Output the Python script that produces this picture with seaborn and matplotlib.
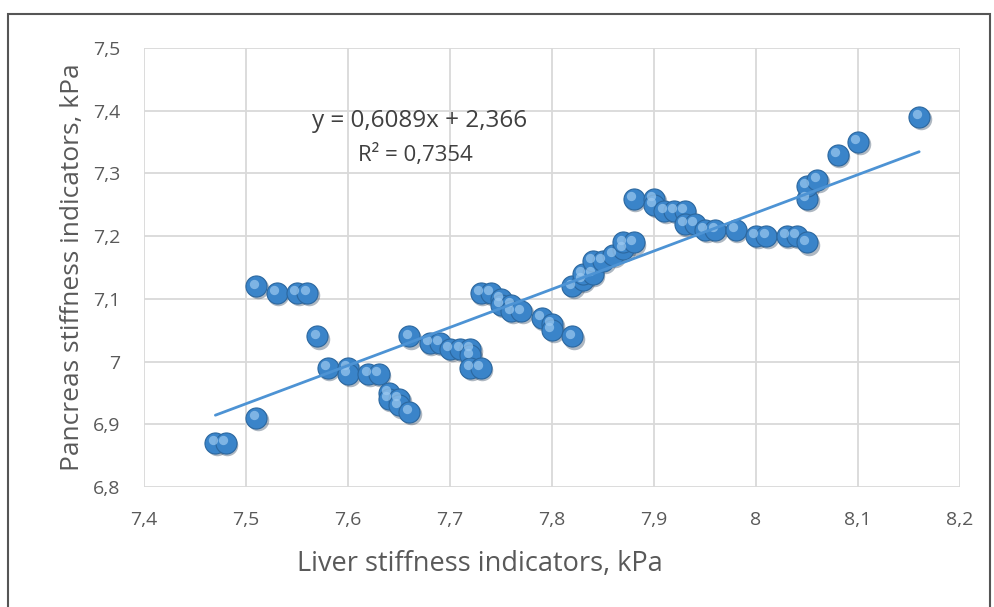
import numpy as np
import pandas as pd
import matplotlib
matplotlib.use("Agg")
import matplotlib.pyplot as plt
import matplotlib.transforms as mtransforms
from matplotlib.patches import Rectangle
import seaborn as sns

# data
liver = [7.47, 7.48, 7.51, 7.51, 7.53, 7.55, 7.56, 7.57, 7.58, 7.60,
         7.60, 7.62, 7.63, 7.64, 7.64, 7.65, 7.65, 7.66, 7.66, 7.68,
         7.69, 7.70, 7.71, 7.72, 7.72, 7.72, 7.73, 7.73, 7.74, 7.75,
         7.75, 7.76, 7.76, 7.77, 7.79, 7.80, 7.80, 7.82, 7.82, 7.83,
         7.83, 7.84, 7.84, 7.85, 7.86, 7.87, 7.87, 7.88, 7.88, 7.90,
         7.90, 7.91, 7.92, 7.93, 7.93, 7.94, 7.95, 7.96, 7.98, 8.00,
         8.01, 8.03, 8.04, 8.05, 8.05, 8.05, 8.06, 8.08, 8.10, 8.16]
pancreas = [6.87, 6.87, 6.91, 7.12, 7.11, 7.11, 7.11, 7.04, 6.99, 6.99,
            6.98, 6.98, 6.98, 6.95, 6.94, 6.94, 6.93, 6.92, 7.04, 7.03,
            7.03, 7.02, 7.02, 7.02, 7.01, 6.99, 6.99, 7.11, 7.11, 7.10,
            7.09, 7.09, 7.08, 7.08, 7.07, 7.06, 7.05, 7.04, 7.12, 7.13,
            7.14, 7.14, 7.16, 7.16, 7.17, 7.18, 7.19, 7.19, 7.26, 7.26,
            7.25, 7.24, 7.24, 7.24, 7.22, 7.22, 7.21, 7.21, 7.21, 7.20,
            7.20, 7.20, 7.20, 7.19, 7.26, 7.28, 7.29, 7.33, 7.35, 7.39]

slope = 0.6089
intercept = 2.366
eq_text = "y = 0,6089x + 2,366"
r2_text = "R² = 0,7354"

x_ticks = [7.4, 7.5, 7.6, 7.7, 7.8, 7.9, 8.0, 8.1, 8.2]
y_ticks = [6.8, 6.9, 7.0, 7.1, 7.2, 7.3, 7.4, 7.5]

df = pd.DataFrame({"liver": liver, "pancreas": pancreas})

sns.set_style("white")
plt.rcParams["font.family"] = ["Open Sans", "DejaVu Sans"]

fig = plt.figure(figsize=(9.95, 6.07), dpi=100)
ax = fig.add_axes([0.1447, 0.1977, 0.8201, 0.7232])

grid_c = "#d9d9d9"
ball = "#3a84c9"

# shadow, ball, highlight -> fake the excel 3d spheres
shadow = mtransforms.offset_copy(ax.transData, fig=fig, x=1.2, y=-1.5, units="points")
hilite = mtransforms.offset_copy(ax.transData, fig=fig, x=-1.8, y=2.0, units="points")
sns.scatterplot(data=df, x="liver", y="pancreas", ax=ax, s=240, color="#1c3450",
                alpha=0.35, linewidth=0, transform=shadow, zorder=2, legend=False)
sns.scatterplot(data=df, x="liver", y="pancreas", ax=ax, s=230, color=ball,
                edgecolor="#2b679f", linewidth=0.8, zorder=3, legend=False)
sns.scatterplot(data=df, x="liver", y="pancreas", ax=ax, s=45, color="#9cc9f0",
                alpha=0.7, linewidth=0, transform=hilite, zorder=4, legend=False)

# linear trend line from the displayed equation
line_x = np.array([min(liver), max(liver)])
sns.lineplot(x=line_x, y=slope * line_x + intercept, ax=ax, color="#4d93d4",
             linewidth=2.0, zorder=5)

ax.text(7.67, 7.383, eq_text, ha="center", va="center", fontsize=17.5, color="#404040")
ax.text(7.666, 7.329, r2_text, ha="center", va="center", fontsize=16, color="#404040")

ax.set_xlim(7.4, 8.2)
ax.set_ylim(6.8, 7.5)
ax.set_xticks(x_ticks)
ax.set_yticks(y_ticks)
fmt = lambda v: f"{v:g}".replace(".", ",")
ax.set_xticklabels([fmt(v) for v in x_ticks])
ax.set_yticklabels([fmt(v) for v in y_ticks])
ax.tick_params(axis="both", length=0, labelsize=14, colors="#595959")
ax.tick_params(axis="x", pad=17)
ax.tick_params(axis="y", pad=17)
ax.grid(True, color=grid_c, linewidth=1.3)
for sp in ax.spines.values():
    sp.set_visible(False)
ax.set_axisbelow(True)

ax.set_xlabel("Liver stiffness indicators, kPa", fontsize=19.5, color="#595959")
ax.xaxis.set_label_coords(0.412, -0.143)
ax.set_ylabel("Pancreas stiffness indicators, kPa", fontsize=19, color="#595959", labelpad=6)

# outer frame
fig.patches.append(Rectangle((8 / 995, -0.05), 982 / 995, 1.05 - 14 / 607,
                             transform=fig.transFigure, fill=False,
                             edgecolor="#555555", linewidth=1.5))

fig.savefig("out.png", dpi=100)
